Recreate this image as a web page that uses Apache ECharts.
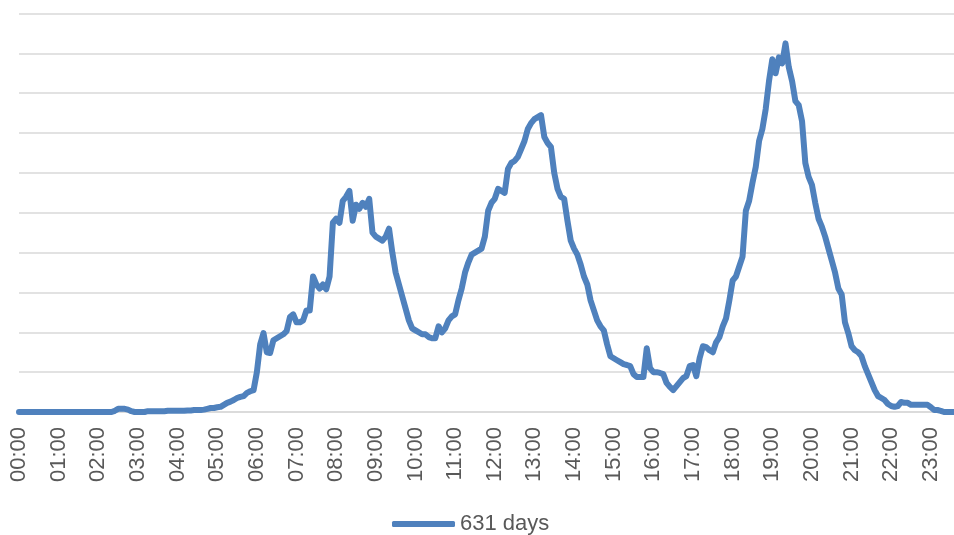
<!DOCTYPE html>
<html>
<head>
<meta charset="utf-8">
<script src="https://cdn.jsdelivr.net/npm/echarts@6/dist/echarts.min.js"></script>
<style>
html,body{margin:0;padding:0;background:#fff;}
#chart{width:954px;height:535px;}
</style>
</head>
<body>
<div id="chart"></div>
<script>
// Hour tick labels (one every 12 five-minute samples)
const hourLabels = ["00:00","01:00","02:00","03:00","04:00","05:00","06:00","07:00","08:00","09:00","10:00","11:00",
  "12:00","13:00","14:00","15:00","16:00","17:00","18:00","19:00","20:00","21:00","22:00","23:00"];
const minuteSteps = ["00","05","10","15","20","25","30","35","40","45","50","55"];
const seriesName = "631 days";

// Values, 5-minute samples, 00:00 .. 23:35
const h00 = [0,0,0,0,0,0,0,0,0,0,0,0];
const h01 = [0,0,0,0,0,0,0,0,0,0,0,0];
const h02 = [0,0,0,0,0,0.3,0.8,0.8,0.8,0.6,0.2,0];
const h03 = [0,0,0,0.2,0.2,0.2,0.2,0.2,0.2,0.3,0.3,0.3];
const h04 = [0.3,0.3,0.3,0.4,0.4,0.5,0.5,0.5,0.6,0.8,1.0,1.0];
const h05 = [1.2,1.3,1.8,2.3,2.6,3.0,3.5,3.8,4.0,4.8,5.2,5.5];
const h06 = [10,17,19.8,15,14.8,18,18.5,19,19.5,20.3,23.8,24.5];
const h07 = [22.5,22.5,23,25.5,25.5,34,32,31,32,30.8,34,47.5];
const h08 = [48.5,47.5,53,54,55.5,48,52,51,52.5,51.5,53.5,45];
const h09 = [44,43.5,43,44,46,40,35,32,29,26,23,21];
const h10 = [20.5,20,19.5,19.5,18.8,18.5,18.5,21.5,20,21,23,24];
const h11 = [24.5,28,31,35,37.5,39.5,40,40.5,41,44,50.5,52.5];
const h12 = [53.5,56,55.5,55,61,62.5,63,64,66,68,71,72.5];
const h13 = [73.5,74,74.5,69,67.5,66.5,60,56,54,53.5,48,43];
const h14 = [41,39.5,37,34,32,28,25.5,23,21.5,20.5,17,14];
const h15 = [13.5,13,12.5,12,11.8,11.5,9.5,8.8,8.8,8.8,16,11];
const h16 = [10,10,9.8,9.5,7.3,6.3,5.5,6.5,7.5,8.5,9,11.5];
const h17 = [11.8,9,13.5,16.5,16.3,15.5,15,17.5,18.8,21.5,23.5,28];
const h18 = [33,34,36.5,39,50.5,53,57.5,61.5,68,71,76,83];
const h19 = [88.5,85,89,87.5,92.5,86.5,83,78,77,73,62.5,59];
const h20 = [57,52.5,48.5,46.5,44,41,38,35,31,29.5,22.5,19.8];
const h21 = [16.5,15.5,15,14,11.5,9.5,7.5,5.5,4,3.5,3,2];
const h22 = [1.5,1.3,1.5,2.5,2.3,2.3,1.8,1.8,1.8,1.8,1.8,1.8];
const h23 = [1.2,0.5,0.5,0.3,0,0,0,0];

const hourBlocks = [h00,h01,h02,h03,h04,h05,h06,h07,h08,h09,h10,h11,h12,h13,h14,h15,h16,h17,h18,h19,h20,h21,h22,h23];
const categories = [];
const values = [];
hourBlocks.forEach((block, h) => {
  block.forEach((v, m) => {
    categories.push(hourLabels[h].slice(0,3) + minuteSteps[m]);
    values.push(v);
  });
});

const chart = echarts.init(document.getElementById('chart'), null, {renderer:'canvas'});
chart.setOption({
  animation: false,
  backgroundColor: '#ffffff',
  grid: {left: 19, right: 0, top: 13.5, bottom: 123, containLabel: false},
  legend: {
    data: [seriesName],
    left: 387, top: 508,
    icon: 'roundRect',
    itemWidth: 63, itemHeight: 6,
    textStyle: {fontFamily: 'Liberation Sans', fontSize: 22, color: '#595959'}
  },
  xAxis: {
    type: 'category',
    data: categories,
    boundaryGap: false,
    axisLine: {lineStyle: {color: '#d9d9d9', width: 1.5}},
    axisTick: {show: false},
    axisLabel: {
      interval: 11,
      rotate: 90,
      margin: 15,
      fontFamily: 'Liberation Sans',
      fontSize: 22,
      color: '#595959'
    },
    splitLine: {show: false}
  },
  yAxis: {
    type: 'value',
    min: 0, max: 100, interval: 10,
    axisLine: {show: false},
    axisTick: {show: false},
    axisLabel: {show: false},
    splitLine: {lineStyle: {color: '#d9d9d9', width: 1.5}}
  },
  series: [{
    name: seriesName,
    type: 'line',
    data: values,
    showSymbol: false,
    symbol: 'none',
    lineStyle: {color: '#4f81bd', width: 6, cap: 'round', join: 'round'},
    itemStyle: {color: '#4f81bd'}
  }]
});
</script>
</body>
</html>
